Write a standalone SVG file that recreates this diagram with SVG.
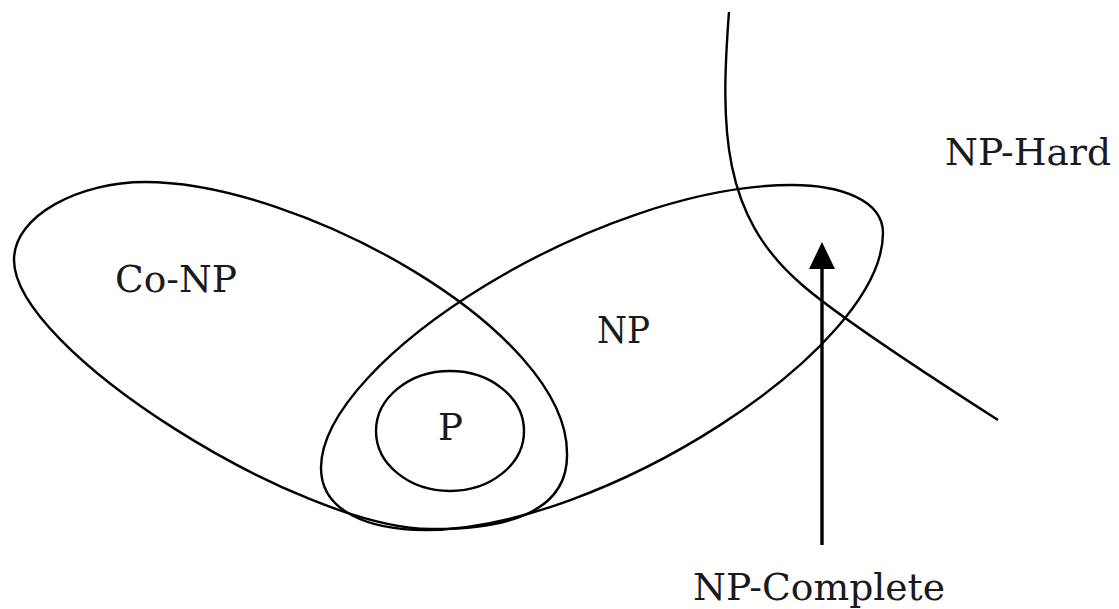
<svg xmlns="http://www.w3.org/2000/svg" width="1119" height="609" viewBox="0 0 1119 609">
<style>
.set{fill:none;stroke:#000;stroke-width:2.4}
.lbl{font-family:"DejaVu Serif","Liberation Serif",serif;font-size:37px;fill:#1a1a1a}
</style>
<rect width="1119" height="609" fill="#fff"/>
<g id="conp">
<path class="set" d="M14,260 C14,215 80,182 145,182 C300,182 567,330 567,453 C569,515 500,530 430,529 C300,528 14,350 14,260 Z"/>
<text class="lbl" x="115" y="292" textLength="122" lengthAdjust="spacingAndGlyphs" font-family="DejaVu Serif, serif">Co-NP</text>
</g>
<g id="np">
<path class="set" d="M321,468 C321,512 370,530 425,530 C600,530 883,350 883,233 C883,200 840,185 792,185 C600,185 321,360 321,468 Z"/>
<text class="lbl" x="597" y="343" textLength="53" lengthAdjust="spacingAndGlyphs" font-family="DejaVu Serif, serif">NP</text>
</g>
<g id="p">
<ellipse class="set" cx="450" cy="431" rx="74" ry="60"/>
<text class="lbl" x="438" y="440" textLength="25" lengthAdjust="spacingAndGlyphs" font-family="DejaVu Serif, serif">P</text>
</g>
<g id="nphard">
<path class="set" d="M729,12 C720,130 722,215 800,283 C830,310 920,370 998,420"/>
<text class="lbl" x="945" y="165" textLength="166" lengthAdjust="spacingAndGlyphs" font-family="DejaVu Serif, serif">NP-Hard</text>
</g>
<g id="npcomplete">
<text class="lbl" x="693" y="600" textLength="252" lengthAdjust="spacingAndGlyphs" font-family="DejaVu Serif, serif">NP-Complete</text>
</g>
<g id="connectors">
<line x1="822" y1="545" x2="822" y2="266" stroke="#000" stroke-width="3.4"/>
<polygon points="822,242 809,269 835,269" fill="#000"/>
</g>
</svg>
